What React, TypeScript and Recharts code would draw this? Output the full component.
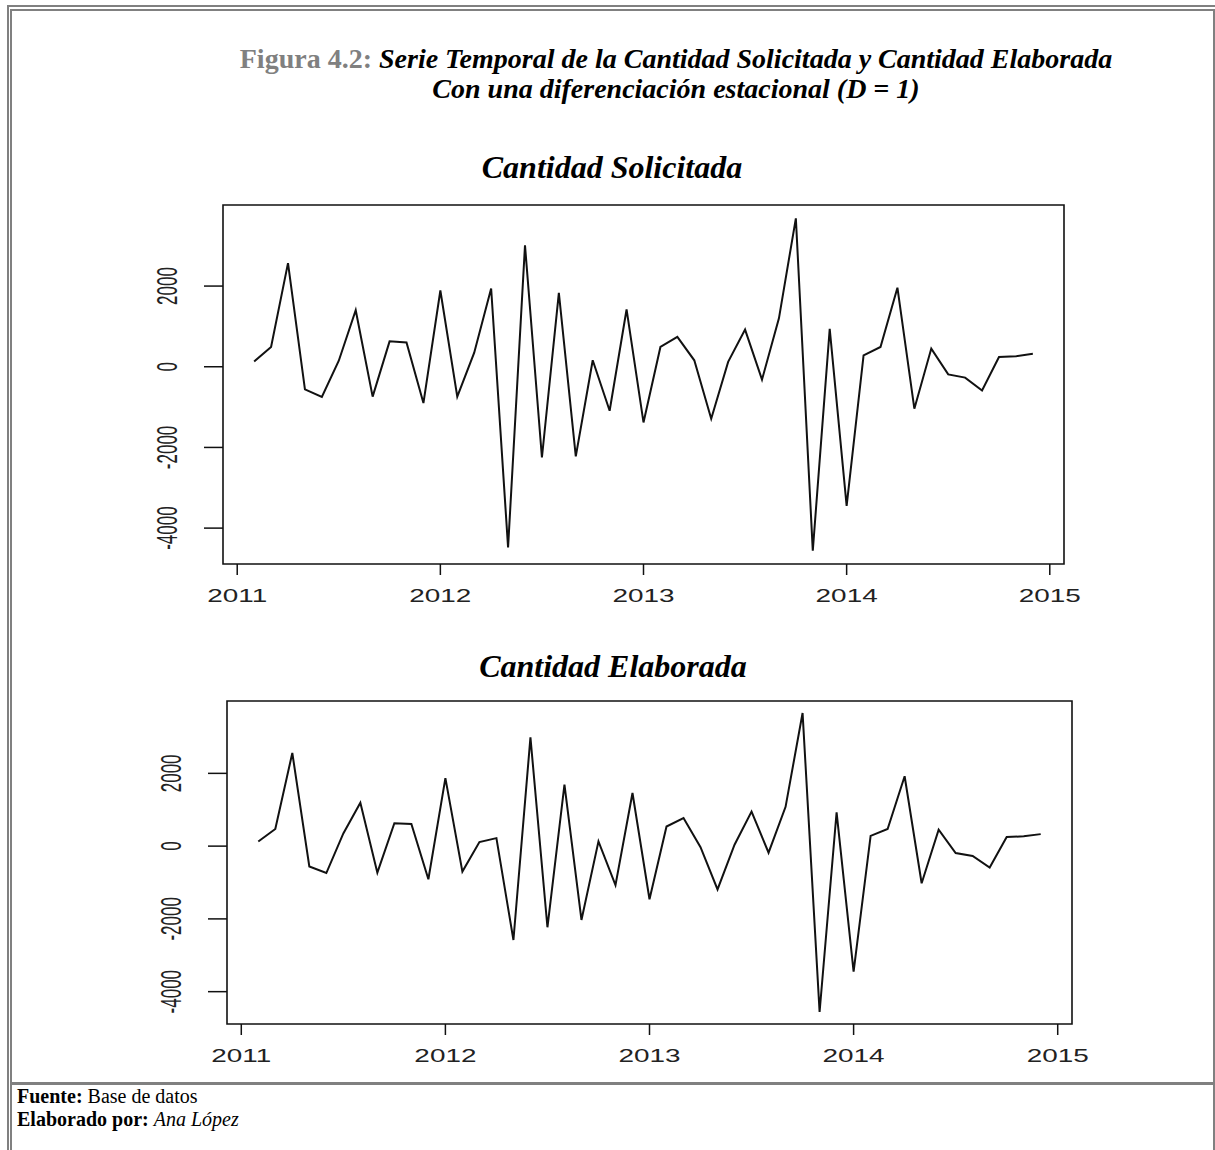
import React from 'react'
import { LineChart, Line, XAxis, YAxis, ReferenceArea } from 'recharts'

// meses de la serie diferenciada (feb 2011 - dic 2014)
const periodos = [
  '2011-02', '2011-03', '2011-04', '2011-05', '2011-06', '2011-07', '2011-08', '2011-09', '2011-10', '2011-11', '2011-12',
  '2012-01', '2012-02', '2012-03', '2012-04', '2012-05', '2012-06', '2012-07', '2012-08', '2012-09', '2012-10', '2012-11', '2012-12',
  '2013-01', '2013-02', '2013-03', '2013-04', '2013-05', '2013-06', '2013-07', '2013-08', '2013-09', '2013-10', '2013-11', '2013-12',
  '2014-01', '2014-02', '2014-03', '2014-04', '2014-05', '2014-06', '2014-07', '2014-08', '2014-09', '2014-10', '2014-11', '2014-12',
]

const solicitada = [
  130, 490, 2570, -560, -750, 150, 1400, -740, 630, 600, -900,
  1890, -740, 350, 1940, -4480, 3010, -2250, 1830, -2220, 160, -1090, 1420,
  -1380, 490, 740, 160, -1290, 120, 920, -320, 1200, 3680, -4560, 940,
  -3450, 280, 490, 1960, -1040, 450, -190, -270, -590, 240, 260, 320,
]

const elaborada = [
  127, 470, 2560, -560, -740, 350, 1190, -730, 630, 610, -910,
  1870, -700, 110, 220, -2580, 2990, -2230, 1690, -2030, 130, -1070, 1460,
  -1460, 540, 770, -30, -1190, 40, 950, -180, 1080, 3660, -4560, 930,
  -3450, 280, 470, 1920, -1020, 450, -190, -270, -590, 250, 270, 330,
]

const anios = [2011, 2012, 2013, 2014, 2015]
const yTicks = [-4000, -2000, 0, 2000]

const aDecimal = (p: string) => {
  const [a, m] = p.split('-').map(Number)
  return a + (m - 1) / 12
}

// rango con 4% de holgura, como en plot() de R
const rango = (v: number[]): [number, number] => {
  const lo = Math.min(...v)
  const hi = Math.max(...v)
  const d = (hi - lo) * 0.04
  return [lo - d, hi + d]
}

const tiempos = periodos.map(aDecimal)
const xDom = rango(tiempos)

const XTick = (props: any) => {
  const { x, y, payload } = props
  return (
    <text
      transform={`translate(${x},${y + 27}) scale(1.55,1)`}
      textAnchor="middle"
      fontFamily="'Liberation Sans', Arial, sans-serif"
      fontSize={18}
      fill="#222"
    >
      {payload.value}
    </text>
  )
}

const YTick = (props: any) => {
  const { x, y, payload } = props
  return (
    <text
      transform={`translate(${x - 27},${y}) scale(1.75,1) rotate(-90)`}
      textAnchor="middle"
      fontFamily="'Liberation Sans', Arial, sans-serif"
      fontSize={17}
      fill="#222"
    >
      {payload.value}
    </text>
  )
}

type PanelProps = {
  valores: number[]
  top: number
  height: number
  margin: { top: number; right: number; bottom: number; left: number }
}

function Panel({ valores, top, height, margin }: PanelProps) {
  const data = tiempos.map((t, i) => ({ t, v: valores[i] }))
  const yDom = rango(valores)
  return (
    <div style={{ position: 'absolute', left: 0, top }}>
      <LineChart width={1215} height={height} data={data} margin={margin}>
        <XAxis
          dataKey="t"
          type="number"
          domain={xDom}
          ticks={anios}
          allowDataOverflow
          axisLine={false}
          tickSize={11}
          tickMargin={0}
          tickLine={{ stroke: '#111', strokeWidth: 1.5 }}
          tick={<XTick />}
          height={40}
        />
        <YAxis
          type="number"
          domain={yDom}
          ticks={yTicks}
          allowDataOverflow
          axisLine={false}
          tickSize={19}
          tickMargin={0}
          tickLine={{ stroke: '#111', strokeWidth: 1.5 }}
          tick={<YTick />}
          width={80}
        />
        <ReferenceArea
          x1={xDom[0]}
          x2={xDom[1]}
          y1={yDom[0]}
          y2={yDom[1]}
          fill="none"
          stroke="#111"
          strokeWidth={1.6}
          ifOverflow="visible"
        />
        <Line
          type="linear"
          dataKey="v"
          stroke="#111"
          strokeWidth={2}
          dot={false}
          isAnimationActive={false}
        />
      </LineChart>
    </div>
  )
}

const serif = "'Liberation Serif', 'Times New Roman', serif"
const gris = '#808080'

const box = (l: number, t: number, w: number, h: number): React.CSSProperties => ({
  position: 'absolute', left: l, top: t, width: w, height: h, background: gris,
})

export default function App() {
  return (
    <div style={{ position: 'absolute', left: 0, top: 0, width: 1215, height: 1150, background: '#fff', overflow: 'hidden' }}>
      <div style={box(7, 5, 1208, 2)} />
      <div style={box(7, 5, 2, 1145)} />
      <div style={box(10, 9, 1205, 2)} />
      <div style={box(10, 9, 2, 1141)} />
      <div style={box(1213, 9, 2, 1141)} />
      <div style={box(12, 1082, 1201, 3)} />

      <div
        style={{
          position: 'absolute', left: 176, top: 44, width: 1000, textAlign: 'center',
          fontFamily: serif, fontSize: 28, lineHeight: '30px', fontWeight: 'bold',
        }}
      >
        <span style={{ color: gris }}>Figura 4.2: </span>
        <i>Serie Temporal de la Cantidad Solicitada y Cantidad Elaborada</i>
        <br />
        <i>Con una diferenciación estacional (D = 1)</i>
      </div>

      <div
        style={{
          position: 'absolute', left: 312, top: 149, width: 600, textAlign: 'center',
          fontFamily: serif, fontSize: 32, fontWeight: 'bold', fontStyle: 'italic',
        }}
      >
        Cantidad Solicitada
      </div>
      <Panel valores={solicitada} top={190} height={440} margin={{ top: 15, right: 151, bottom: 26, left: 143 }} />

      <div
        style={{
          position: 'absolute', left: 313, top: 648, width: 600, textAlign: 'center',
          fontFamily: serif, fontSize: 32, fontWeight: 'bold', fontStyle: 'italic',
        }}
      >
        Cantidad Elaborada
      </div>
      <Panel valores={elaborada} top={690} height={390} margin={{ top: 11, right: 143, bottom: 16, left: 147 }} />

      <div style={{ position: 'absolute', left: 17, top: 1085, fontFamily: serif, fontSize: 20, lineHeight: '23px', color: '#000' }}>
        <b>Fuente:</b> Base de datos
        <br />
        <b>Elaborado por:</b> <i>Ana López</i>
      </div>
    </div>
  )
}
